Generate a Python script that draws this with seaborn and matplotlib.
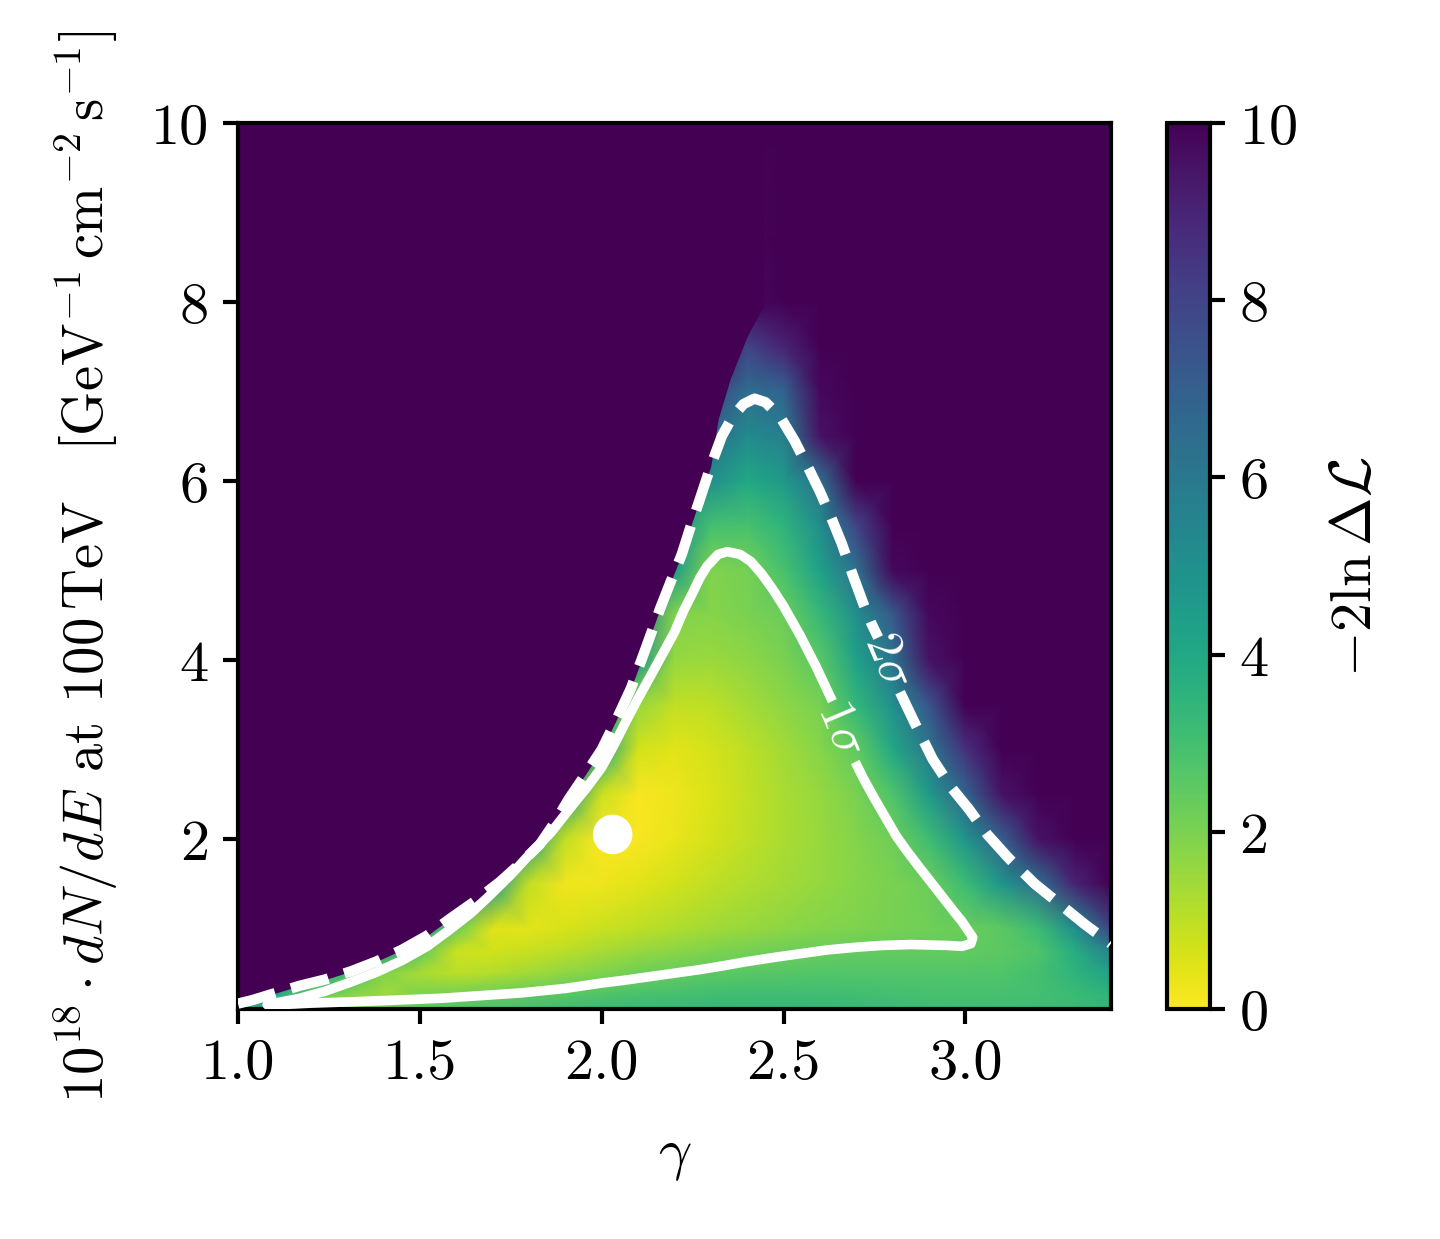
import numpy as np
import matplotlib
matplotlib.use("Agg")
import matplotlib.pyplot as plt
import seaborn as sns

# grid of -2 ln dL (rows = flux, columns = gamma)
gamma_grid = [1.0, 1.1, 1.2, 1.3, 1.4, 1.5, 1.6, 1.7, 1.8, 1.9, 2.0, 2.1, 2.2,
              2.3, 2.4, 2.5, 2.6, 2.7, 2.8, 2.9, 3.0, 3.1, 3.2, 3.3, 3.4]
flux_levels = [0.0, 0.25, 0.5, 0.75, 1.0, 1.5, 2.0, 2.5, 3.0, 3.5, 4.0, 4.5,
               5.0, 5.5, 6.0, 6.5, 7.0, 7.5, 8.0, 10.0]
ts_rows = [
    [5.0, 2.7, 2.7, 2.8, 2.9, 3.0, 3.1, 3.2, 3.3, 3.4, 3.5, 3.5, 3.5, 3.5, 3.5, 3.5, 3.5, 3.4, 3.4, 3.3, 3.3, 3.3, 3.3, 3.3, 3.4],
    [4.0, 4.0, 2.3, 1.8, 1.4, 2.0, 2.2, 2.35, 2.5, 2.65, 2.8, 2.95, 3.0, 3.05, 3.1, 3.1, 3.1, 3.05, 3.0, 2.95, 2.95, 2.95, 3.0, 3.2, 3.5],
    [8.0, 6.0, 4.5, 3.2, 1.9, 1.3, 1.0, 1.15, 1.4, 1.7, 1.95, 2.2, 2.35, 2.5, 2.6, 2.65, 2.7, 2.7, 2.7, 2.7, 2.7, 2.75, 3.0, 3.5, 4.2],
    [10, 8.0, 6.0, 6.0, 4.5, 2.5, 0.8, 0.7, 0.85, 1.05, 1.3, 1.55, 1.75, 1.95, 2.1, 2.2, 2.3, 2.35, 2.4, 2.4, 2.4, 2.5, 2.8, 3.8, 5.6],
    [10, 10, 8.0, 6.0, 6.0, 4.5, 2.3, 0.5, 0.45, 0.6, 0.8, 1.0, 1.2, 1.4, 1.55, 1.7, 1.85, 1.95, 2.05, 2.15, 2.3, 2.5, 3.2, 5.0, 8.0],
    [10, 10, 10, 10, 8.0, 6.0, 6.0, 4.5, 0.9, 0.2, 0.25, 0.45, 0.7, 0.95, 1.2, 1.4, 1.6, 1.8, 2.0, 2.25, 3.2, 4.8, 6.4, 9.0, 10],
    [10, 10, 10, 10, 10, 10, 8.0, 6.0, 4.5, 0.9, 0.05, 0.1, 0.35, 0.65, 0.95, 1.25, 1.55, 1.85, 2.2, 3.1, 4.8, 7.0, 9.5, 10, 10],
    [10, 10, 10, 10, 10, 10, 10, 8.0, 6.0, 4.5, 0.8, 0.1, 0.25, 0.55, 0.9, 1.25, 1.6, 2.0, 2.8, 4.6, 6.8, 9.5, 10, 10, 10],
    [10, 10, 10, 10, 10, 10, 10, 10, 8.0, 6.0, 4.0, 0.7, 0.45, 0.65, 1.0, 1.4, 1.8, 2.45, 4.0, 6.0, 8.6, 10, 10, 10, 10],
    [10, 10, 10, 10, 10, 10, 10, 10, 10, 8.0, 4.5, 1.6, 0.9, 1.0, 1.35, 1.7, 2.05, 3.4, 5.0, 7.4, 10, 10, 10, 10, 10],
    [10, 10, 10, 10, 10, 10, 10, 10, 10, 10, 6.0, 4.5, 1.6, 1.5, 1.7, 2.0, 2.6, 4.3, 6.1, 9.5, 10, 10, 10, 10, 10],
    [10, 10, 10, 10, 10, 10, 10, 10, 10, 10, 8.0, 6.0, 1.9, 1.8, 2.0, 2.25, 3.3, 5.0, 7.2, 9.8, 10, 10, 10, 10, 10],
    [10, 10, 10, 10, 10, 10, 10, 10, 10, 10, 10, 6.0, 4.5, 1.9, 2.1, 2.9, 4.3, 6.3, 9.8, 10, 10, 10, 10, 10, 10],
    [10, 10, 10, 10, 10, 10, 10, 10, 10, 10, 10, 7.0, 5.0, 3.0, 2.9, 3.5, 5.1, 8.0, 10, 10, 10, 10, 10, 10, 10],
    [10, 10, 10, 10, 10, 10, 10, 10, 10, 10, 10, 10, 6.0, 5.0, 4.0, 4.6, 6.3, 10, 10, 10, 10, 10, 10, 10, 10],
    [10, 10, 10, 10, 10, 10, 10, 10, 10, 10, 10, 10, 8.0, 6.5, 5.2, 5.7, 9.5, 10, 10, 10, 10, 10, 10, 10, 10],
    [10, 10, 10, 10, 10, 10, 10, 10, 10, 10, 10, 10, 10, 8.0, 6.4, 6.8, 9.8, 10, 10, 10, 10, 10, 10, 10, 10],
    [10, 10, 10, 10, 10, 10, 10, 10, 10, 10, 10, 10, 10, 10, 8.0, 9.0, 10, 10, 10, 10, 10, 10, 10, 10, 10],
    [10, 10, 10, 10, 10, 10, 10, 10, 10, 10, 10, 10, 10, 10, 9.8, 10, 10, 10, 10, 10, 10, 10, 10, 10, 10],
    [10, 10, 10, 10, 10, 10, 10, 10, 10, 10, 10, 10, 10, 10, 10, 10, 10, 10, 10, 10, 10, 10, 10, 10, 10],
]

# hard edge of the allowed region (upper left)
edge_gamma = [1.0, 1.04, 1.08, 1.17, 1.24, 1.31, 1.38, 1.45, 1.52, 1.58, 1.65,
              1.72, 1.78, 1.83, 1.87, 1.91, 1.955, 2.0, 2.04, 2.08, 2.12, 2.16,
              2.19, 2.22, 2.245, 2.27, 2.30, 2.32, 2.353, 2.40, 2.444]
edge_flux = [0.16, 0.20, 0.25, 0.36, 0.43, 0.52, 0.63, 0.76, 0.92, 1.10, 1.30,
             1.52, 1.74, 1.94, 2.18, 2.45, 2.72, 3.0, 3.33, 3.68, 4.12, 4.57,
             4.88, 5.18, 5.50, 5.80, 6.17, 6.69, 7.14, 7.62, 7.95]

# 1 sigma contour (open where the label sits)
s1_gamma = [2.697, 2.72, 2.75, 2.78, 2.81, 2.84, 2.87, 2.895, 2.92, 2.945, 2.97,
            2.99, 3.005, 3.02, 3.015, 2.99, 2.95, 2.85, 2.77, 2.70, 2.62, 2.55,
            2.48, 2.40, 2.33, 2.27, 2.20, 2.13, 2.06, 2.0, 1.9, 1.78, 1.67,
            1.56, 1.44, 1.31, 1.2, 1.15, 1.09, 1.08, 1.10, 1.17, 1.24, 1.31,
            1.38, 1.45, 1.52, 1.58, 1.64, 1.69, 1.75, 1.80, 1.86, 1.92, 1.96,
            2.0, 2.035, 2.07, 2.10, 2.13, 2.165, 2.2, 2.225, 2.25, 2.27, 2.29,
            2.32, 2.345, 2.38, 2.41, 2.44, 2.47, 2.50, 2.546, 2.59, 2.634]
s1_flux = [2.86, 2.67, 2.45, 2.24, 2.03, 1.86, 1.70, 1.57, 1.44, 1.31, 1.18,
           1.08, 0.99, 0.90, 0.83, 0.80, 0.81, 0.82, 0.81, 0.79, 0.76, 0.72,
           0.68, 0.63, 0.58, 0.54, 0.50, 0.46, 0.42, 0.39, 0.33, 0.28, 0.25,
           0.22, 0.20, 0.18, 0.165, 0.155, 0.145, 0.148, 0.165, 0.22, 0.30,
           0.40, 0.51, 0.64, 0.80, 0.98, 1.17, 1.36, 1.60, 1.82, 2.07, 2.38,
           2.58, 2.80, 3.06, 3.34, 3.57, 3.79, 4.05, 4.31, 4.55, 4.75, 4.92,
           5.05, 5.18, 5.21, 5.18, 5.10, 4.96, 4.79, 4.60, 4.27, 3.92, 3.54]

# 2 sigma contour, two pieces around the label
s2a_gamma = [1.0, 1.04, 1.08, 1.17, 1.24, 1.31, 1.38, 1.45, 1.52, 1.58, 1.65,
             1.72, 1.78, 1.83, 1.87, 1.91, 1.955, 2.0, 2.04, 2.08, 2.12, 2.16,
             2.19, 2.22, 2.245, 2.27, 2.30, 2.33, 2.36, 2.39, 2.42, 2.45, 2.49,
             2.53, 2.57, 2.60, 2.63, 2.66, 2.69, 2.72, 2.74, 2.76]
s2a_flux = [0.16, 0.20, 0.25, 0.36, 0.43, 0.52, 0.63, 0.76, 0.92, 1.10, 1.30,
            1.52, 1.74, 1.94, 2.18, 2.45, 2.72, 3.0, 3.33, 3.68, 4.12, 4.57,
            4.88, 5.18, 5.50, 5.80, 6.17, 6.50, 6.72, 6.86, 6.92, 6.88, 6.72,
            6.45, 6.13, 5.88, 5.60, 5.30, 4.95, 4.62, 4.42, 4.25]
s2b_gamma = [2.82, 2.86, 2.91, 2.96, 3.01, 3.06, 3.12, 3.19, 3.26, 3.33, 3.40]
s2b_flux = [3.64, 3.30, 2.89, 2.58, 2.33, 2.05, 1.78, 1.50, 1.27, 1.04, 0.83]

best_gamma = [2.03]
best_flux = [2.05]

sns.set_style("ticks")
plt.rcParams.update({
    "font.family": "serif",
    "font.serif": ["cmr10"],
    "mathtext.fontset": "cm",
    "axes.formatter.use_mathtext": True,
    "axes.edgecolor": "black",
    "axes.labelcolor": "black",
    "text.color": "black",
    "xtick.color": "black",
    "ytick.color": "black",
    "axes.linewidth": 1.0,
    "xtick.major.width": 1.0,
    "ytick.major.width": 1.0,
    "xtick.major.size": 3.5,
    "ytick.major.size": 3.5,
    "font.size": 14,
})

fig = plt.figure(figsize=(4.8, 4.1333), dpi=300)
ax = fig.add_axes([0.1653, 0.1855, 0.6062, 0.7145])
cax = fig.add_axes([0.8104, 0.1855, 0.0299, 0.7145])

G, F = np.meshgrid(gamma_grid, flux_levels)
mesh = ax.pcolormesh(G, F, np.array(ts_rows), shading="gouraud",
                     cmap="viridis_r", vmin=0, vmax=10, zorder=0)
purple = plt.get_cmap("viridis_r")(1.0)
ax.fill_between(edge_gamma, edge_flux, 10.5, color=purple, lw=0, zorder=1)

sns.lineplot(x=s1_gamma, y=s1_flux, sort=False, estimator=None, ax=ax,
             color="white", lw=2.3, solid_joinstyle="round",
             solid_capstyle="butt", zorder=3)
for xs, ys in [(s2a_gamma, s2a_flux), (s2b_gamma, s2b_flux)]:
    sns.lineplot(x=xs, y=ys, sort=False, estimator=None, ax=ax,
                 color="white", lw=2.5, linestyle="--",
                 dash_joinstyle="round", zorder=3)
sns.scatterplot(x=best_gamma, y=best_flux, ax=ax, color="white", s=90,
                edgecolor="none", zorder=4)

ax.text(2.656, 3.24, r"$1\sigma$", rotation=-67, color="white", fontsize=12,
        ha="center", va="center", rotation_mode="anchor", zorder=5)
ax.text(2.785, 4.00, r"$2\sigma$", rotation=-67, color="white", fontsize=12,
        ha="center", va="center", rotation_mode="anchor", zorder=5)

ax.set_xlim(1.0, 3.4)
ax.set_ylim(0.1, 10)
ax.set_xticks([1.0, 1.5, 2.0, 2.5, 3.0])
ax.set_xticklabels(["1.0", "1.5", "2.0", "2.5", "3.0"])
ax.set_yticks([2, 4, 6, 8, 10])
ax.set_yticklabels(["2", "4", "6", "8", "10"])
ax.tick_params(labelsize=14)
ax.set_xlabel(r"$\gamma$", fontsize=14, labelpad=10)
ax.set_ylabel(r"$10^{18}\cdot dN/dE$ at $100\,\mathrm{TeV}$"
              r"$\quad[\mathrm{GeV}^{-1}\,\mathrm{cm}^{-2}\,\mathrm{s}^{-1}]$",
              fontsize=13.6, labelpad=7)

cbar = fig.colorbar(mesh, cax=cax, ticks=[0, 2, 4, 6, 8, 10])
cbar.ax.tick_params(labelsize=14, width=1.0, length=3.5)
cbar.outline.set_linewidth(1.0)
cbar.set_label(r"$-2\ln\Delta\mathcal{L}$", fontsize=14, labelpad=8)

fig.savefig("out.png", dpi=300)
